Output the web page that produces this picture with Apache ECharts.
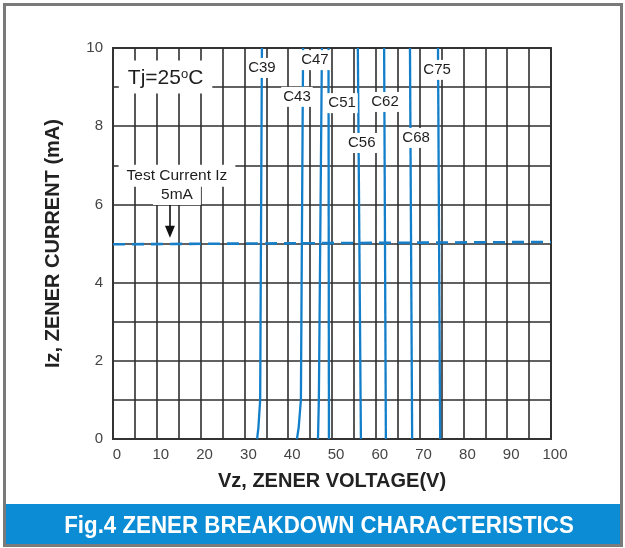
<!DOCTYPE html>
<html>
<head>
<meta charset="utf-8">
<script src="https://cdn.jsdelivr.net/npm/echarts@6/dist/echarts.min.js"></script>
<style>
html,body{margin:0;padding:0;background:#fff;}
#c{width:625px;height:548px;}
</style>
</head>
<body>
<div id="c"></div>
<script>
// ---- data ----
const curveNames = ['C39','C43','C47','C51','C56','C62','C68','C75'];
const C39 = [[32.9,0],[33.2,0.3],[33.6,1],[34.0,10]];
const C43 = [[42.0,0],[42.4,0.3],[42.9,1],[43.4,10]];
const C47 = [[46.8,0],[47.0,1],[47.7,10]];
const C51 = [[49.3,0],[49.2,10]];
const C56 = [[56.6,0],[55.9,10]];
const C62 = [[62.3,0],[61.9,10]];
const C68 = [[68.3,0],[67.8,10]];
const C75 = [[74.7,0],[74.2,10]];
const curves = [C39,C43,C47,C51,C56,C62,C68,C75];
const testCurrent = [[0,4.98],[100,5.04]];
const curveLabelPos = [[34.0,9.49],[42.0,8.75],[46.1,9.69],[52.3,8.59],[56.8,7.57],[62.1,8.62],[69.2,7.70],[74.0,9.44]];
const tjLabelPos = [12.0,9.26];
const testLabelPos = [[14.6,6.73],[14.6,6.24]];
const arrowFrom = [13.0,6.03];
const arrowTo = [13.0,5.30];
const xMin = 0, xMax = 100, xStep = 5;
const yMin = 0, yMax = 10, yStep = 1;

const chart = echarts.init(document.getElementById('c'), null, {renderer:'canvas'});
const blue = '#137fca';
const series = curves.map((d,i)=>({
  type:'line', name:curveNames[i], data:d, showSymbol:false, symbol:'none',
  lineStyle:{color:blue,width:2.3}, z:3, silent:true, animation:false
}));
series.push({
  type:'line', name:'test', data:testCurrent, showSymbol:false, symbol:'none',
  lineStyle:{color:'#177ec8',width:2.6,type:[12,7]}, z:3, silent:true, animation:false,
  markLine:{
    silent:true, symbol:['none','triangle'], symbolSize:[10,12], animation:false,
    label:{show:false},
    lineStyle:{color:'#111',width:1.6,type:'solid'},
    data:[[{coord:arrowFrom},{coord:arrowTo}]]
  }
});
const lbl = {show:true, position:'inside', color:'#1e1e1e', fontFamily:'Liberation Sans, Arial',
  fontSize:15, backgroundColor:'#fff', padding:[3,2,2,2]};
const labelData = curveLabelPos.map((p,i)=>({value:p, name:curveNames[i]}));
labelData.push({value:tjLabelPos, name:'Tj', label:{fontSize:21, padding:[7,9,4,9],
  formatter:'Tj=25{s|o}C', rich:{s:{fontSize:13, padding:[0,0,9,0], color:'#1e1e1e', fontFamily:'Liberation Sans, Arial'}}}});
labelData.push({value:testLabelPos[0], name:'Test Current Iz', label:{fontSize:15.5, padding:[4,8,2,8]}});
labelData.push({value:testLabelPos[1], name:'5mA', label:{fontSize:15.5, padding:[1,8,3,8]}});
series.push({
  type:'scatter', data:labelData, symbolSize:1, itemStyle:{color:'rgba(255,255,255,0)', opacity:1},
  label:Object.assign({formatter:'{b}'}, lbl), z:10, silent:true, animation:false
});

chart.setOption({
  animation:false,
  backgroundColor:'#fff',
  grid:{left:113, top:48, right:74, bottom:109, show:true, borderColor:'#444', borderWidth:2, backgroundColor:'transparent'},
  xAxis:{type:'value', min:xMin, max:xMax, interval:xStep,
    name:'Vz, ZENER VOLTAGE(V)', nameLocation:'middle', nameGap:32,
    nameTextStyle:{fontSize:20, fontWeight:'bold', color:'#222', fontFamily:'Liberation Sans, Arial'},
    axisLine:{show:true, lineStyle:{color:'#333',width:2}},
    axisTick:{show:false},
    axisLabel:{formatter:v=> (v%10===0? String(v):''), color:'#444', fontSize:15, margin:8, padding:[0,0,0,8], fontFamily:'Liberation Sans, Arial'},
    splitLine:{show:true, lineStyle:{color:'#2e2e2e', width:1.6}}
  },
  yAxis:{type:'value', min:yMin, max:yMax, interval:yStep,
    name:'Iz, ZENER CURRENT (mA)', nameLocation:'middle', nameGap:50,
    nameTextStyle:{fontSize:20, fontWeight:'bold', color:'#222', fontFamily:'Liberation Sans, Arial'},
    axisLine:{show:true, lineStyle:{color:'#333',width:2}},
    axisTick:{show:false},
    axisLabel:{formatter:v=> (v%2===0? String(v):''), color:'#444', fontSize:15, margin:10, fontFamily:'Liberation Sans, Arial'},
    splitLine:{show:true, lineStyle:{color:'#2e2e2e', width:1.6}}
  },
  graphic:[
    {type:'rect', shape:{x:4.5,y:4.5,width:617,height:541}, style:{fill:'none', stroke:'#7a7a7a', lineWidth:3}, z:100, silent:true},
    {type:'rect', shape:{x:6,y:504,width:614,height:41}, style:{fill:'#0b8cd5'}, z:99, silent:true},
    {type:'text', x:319, y:526, scaleX:0.93, originX:0, originY:0,
     style:{text:'Fig.4 ZENER BREAKDOWN CHARACTERISTICS', fill:'#fff', font:'bold 24px "Liberation Sans", Arial', textAlign:'center', textVerticalAlign:'middle'}, z:101, silent:true}
  ],
  series:series
});
</script>
</body>
</html>
